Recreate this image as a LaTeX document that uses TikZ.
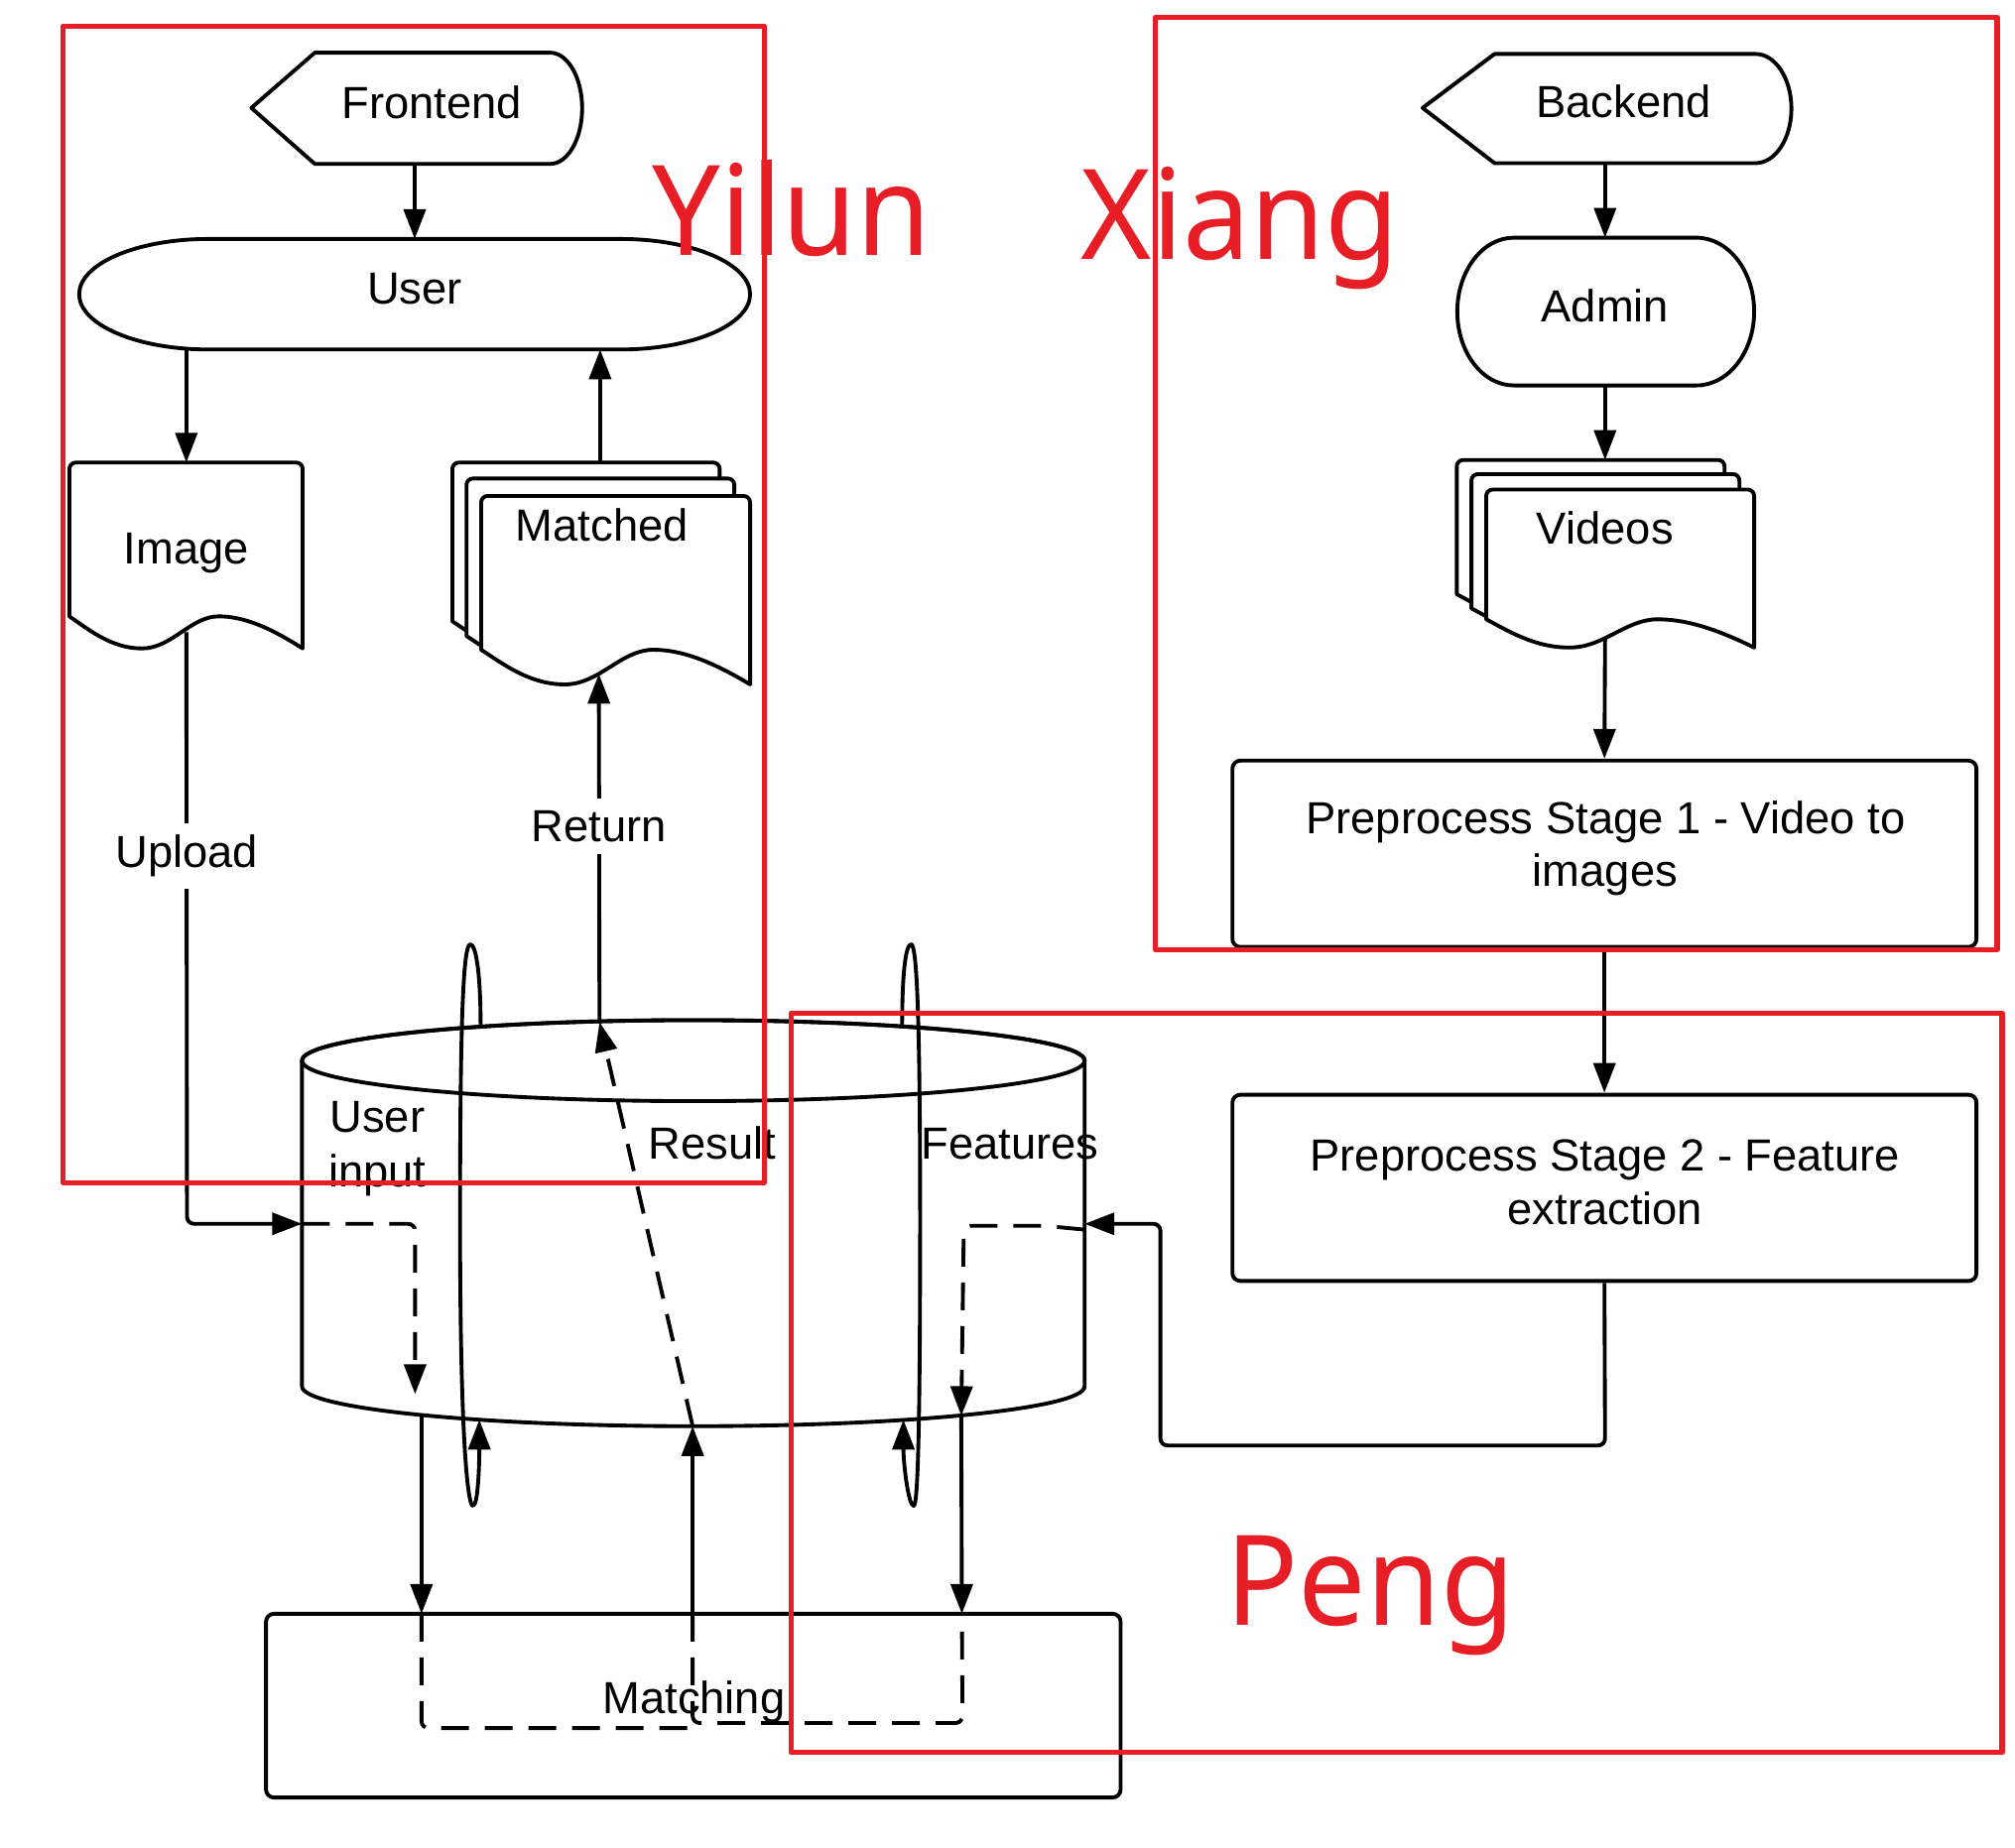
\documentclass[tikz,border=0pt]{standalone}
\usepackage{fontspec}
\setmainfont{Liberation Sans}
\newfontfamily\redfont[FakeStretch=0.96]{Noto Sans}
\usetikzlibrary{arrows.meta}
\definecolor{redc}{RGB}{232,30,38}
\newcommand\docpath[5]{%
 \draw[shp] (#1,{#4-#5}) -- (#1,{#3+5}) arc[start angle=180,end angle=270,radius=5] -- ({#2-5},#3) arc[start angle=270,end angle=360,radius=5] -- (#2,#4) .. controls ({#2-0.15*(#2-#1)},{#4-0.7*#5}) and ({#1+0.74*(#2-#1)},{#4-#5}) .. ({#1+0.64*(#2-#1)},{#4-#5}) .. controls ({#1+0.52*(#2-#1)},{#4-#5}) and ({#1+0.44*(#2-#1)},#4) .. ({#1+0.31*(#2-#1)},#4) .. controls ({#1+0.18*(#2-#1)},#4) and ({#1+0.08*(#2-#1)},{#4-0.6*#5}) .. cycle;}
\begin{document}
\begin{tikzpicture}[x=0.012953cm,y=-0.012953cm, line width=1.1pt, line join=round,
 txt/.style={font=\fontsize{12.9}{15.4}\selectfont, inner sep=0pt, anchor=base},
 arr/.style={-{Triangle[length=0.30cm,width=0.22cm]}},
 dsh/.style={dash pattern=on 0.28cm off 0.16cm},
 shp/.style={draw=black, fill=white},
 redbox/.style={draw=redc, line width=1.5pt},
 redlbl/.style={text=redc, font=\redfont\fontsize{36}{40}\selectfont, inner sep=0pt, anchor=base west},
 boxn/.style={draw, fill=white, rounded corners=0.08cm, inner sep=0pt},
 lbl/.style={txt, fill=white, inner ysep=0.12cm, inner xsep=0.04cm},
]
\useasboundingbox (0,0) rectangle (1568,1438);
\fill[white] (0,0) rectangle (1568,1438);

% ---------- shapes ----------
% Frontend
\draw[shp] (195.6,84) -- (245,41) -- (428,41) arc[start angle=-90,end angle=90,x radius=25,y radius=43.3] -- (245,127.6) -- cycle;
% User
\draw[shp] (162,186) -- (483,186) arc[start angle=-90,end angle=90,x radius=100.7,y radius=43] -- (162,272) arc[start angle=90,end angle=270,x radius=100.4,y radius=43] -- cycle;
% Image
\docpath{54}{235.5}{360}{504.7}{25}
% Matched (stack)
\docpath{352}{560}{360}{510.6}{27}
\docpath{363}{571.4}{372.4}{522}{27}
\docpath{374.4}{583.7}{386}{532.7}{27}
% Backend
\draw[shp] (1107,84) -- (1163,42) -- (1366,42) arc[start angle=-90,end angle=90,x radius=28,y radius=42.5] -- (1163,127) -- cycle;
% Admin
\draw[shp] (1178,185) -- (1320,185) arc[start angle=-90,end angle=90,x radius=45,y radius=57.5] -- (1178,300) arc[start angle=90,end angle=270,x radius=44,y radius=57.5] -- cycle;
% Videos (stack)
\docpath{1133.6}{1342}{358}{484.5}{22}
\docpath{1145}{1353.5}{369}{495.5}{22}
\docpath{1156.5}{1365}{381}{504}{22}
% process boxes
\node[boxn, minimum width=579*0.012953cm, minimum height=145*0.012953cm] (stage1) at (1248.5,664.5) {};
\node[boxn, minimum width=579*0.012953cm, minimum height=145*0.012953cm] (stage2) at (1248.5,924.5) {};
\node[boxn, minimum width=665*0.012953cm, minimum height=143*0.012953cm] (matching) at (539.5,1327.5) {};
% cylinder
\draw[shp] (235,825.5) -- (235,1079) arc[start angle=180,end angle=0,x radius=304.5,y radius=31] -- (844,825.5) arc[start angle=0,end angle=-180,x radius=304.5,y radius=31.5] -- cycle;
\draw (539.5,825.5) ellipse[x radius=304.5,y radius=31.5];

% ---------- anchor coordinates ----------
\coordinate (front-s) at (322.7,127.6);
\coordinate (user-n) at (322.7,186);
\coordinate (user-sl) at (145,271.5);
\coordinate (user-sr) at (467,272);
\coordinate (img-n) at (145,360);
\coordinate (img-s) at (145,492);
\coordinate (mat-n) at (467,360);
\coordinate (mat-s) at (466,524.5);
\coordinate (back-s) at (1249,127);
\coordinate (admin-n) at (1249,185);
\coordinate (admin-s) at (1249,300);
\coordinate (vid-n) at (1249,358);
\coordinate (vid-s) at (1249,497);
\coordinate (cyl-l) at (235,952.5);
\coordinate (cyl-r) at (844,952.5);
\coordinate (cyl-ui) at (323,1085);
\coordinate (cyl-ub) at (328,1101);
\coordinate (cyl-rb) at (539,1110);
\coordinate (cyl-rt) at (466.5,795.5);
\coordinate (cyl-fi) at (748,1102);
\coordinate (match-u) at (328,1256);
\coordinate (match-r) at (539,1256);
\coordinate (match-f) at (748.5,1256);

% ---------- connectors ----------
\draw[arr] (front-s) -- (user-n);
\draw[arr] (user-sl) -- (img-n);
\draw[arr] (mat-n) -- (user-sr);
\draw[arr] (back-s) -- (admin-n);
\draw[arr] (admin-s) -- (vid-n);
\draw[arr] (vid-s) -- (stage1.north);
\draw[arr] (stage1.south) -- (stage2.north);
\draw[arr,rounded corners=0.07cm] (stage2.south) -- (1249,1125) -- (903,1125) -- (903,952.5) -- (cyl-r);
\draw[arr,rounded corners=0.07cm] (img-s) -- (145.5,952.5) -- (cyl-l);
\draw[arr] (cyl-rt) -- (mat-s);
% inside-cylinder dashed parts
\draw[dsh,arr,rounded corners=0.07cm] (cyl-l) -- (323,952.5) -- (cyl-ui);
\draw[dsh,arr,rounded corners=0.07cm] (844,957) -- (812,954) -- (750,954) -- (cyl-fi);
\draw[dsh,arr] (cyl-rb) -- (cyl-rt);
% cylinder to matching
\draw[arr] (cyl-ub) -- (match-u);
\draw[arr] (match-r) -- (cyl-rb);
\draw[arr] (cyl-fi) -- (match-f);
% dashed inside matching
\draw[dsh,rounded corners=0.07cm] (match-u) -- (328,1345) -- (539,1345);
\draw[dsh,rounded corners=0.07cm] (match-r) -- (539,1341) -- (749,1341) -- (match-f);
% self loops on the cylinder
\coordinate (lp1s) at (374,799);
\coordinate (lp1e) at (373,1105);
\draw[arr] (lp1s) .. controls (374,755) and (370,735) .. (366,735) .. controls (361,735) and (358,780) .. (358,950) .. controls (358,1120) and (364,1172) .. (368,1172) .. controls (372,1172) and (373,1140) .. (lp1e);
\coordinate (lp2s) at (702,799);
\coordinate (lp2e) at (703,1105);
\draw[arr] (lp2s) .. controls (702,755) and (705,735) .. (709,735) .. controls (713,735) and (716,780) .. (716,950) .. controls (716,1120) and (714,1172) .. (711,1172) .. controls (707,1172) and (703,1140) .. (lp2e);

% ---------- texts ----------
\node[txt] (tfront) at (336,92) {Frontend};
\node[txt] (tuser) at (322.7,236.5) {User};
\node[txt] (timage) at (145,439) {Image};
\node[txt] (tmatched) at (468.5,421.5) {Matched};
\node[lbl] (tupload) at (145.3,675.5) {Upload};
\node[lbl] (treturn) at (466,655) {Return};
\node[txt] (tback) at (1263.6,91.5) {Backend};
\node[txt] (tadmin) at (1249,250.5) {Admin};
\node[txt] (tvideos) at (1249,423.5) {Videos};
\node[txt] (ts1a) at (1249.4,649) {Preprocess Stage 1 - Video to};
\node[txt] (ts1b) at (1249,690) {images};
\node[txt] (ts2a) at (1249,911.4) {Preprocess Stage 2 - Feature};
\node[txt] (ts2b) at (1249,953.4) {extraction};
\node[txt] (tuin1) at (293.6,881) {User};
\node[txt] (tuin2) at (293.6,923.6) {input};
\node[txt] (tresult) at (554.5,902.4) {Result};
\node[txt] (tfeat) at (786,902.4) {Features};
\node[txt] (tmatching) at (540,1334) {Matching};

% ---------- red groups ----------
\draw[redbox] (49,20.5) rectangle (594.6,920.5);
\draw[redbox] (899,13.5) rectangle (1554,739);
\draw[redbox] (615.5,788.4) rectangle (1558,1364);
\node[redlbl] (yilun) at (506,198.6) {Yilun};
\node[redlbl] (xiang) at (840,202) {Xiang};
\node[redlbl] (peng) at (952,1265) {Peng};
\end{tikzpicture}
\end{document}
